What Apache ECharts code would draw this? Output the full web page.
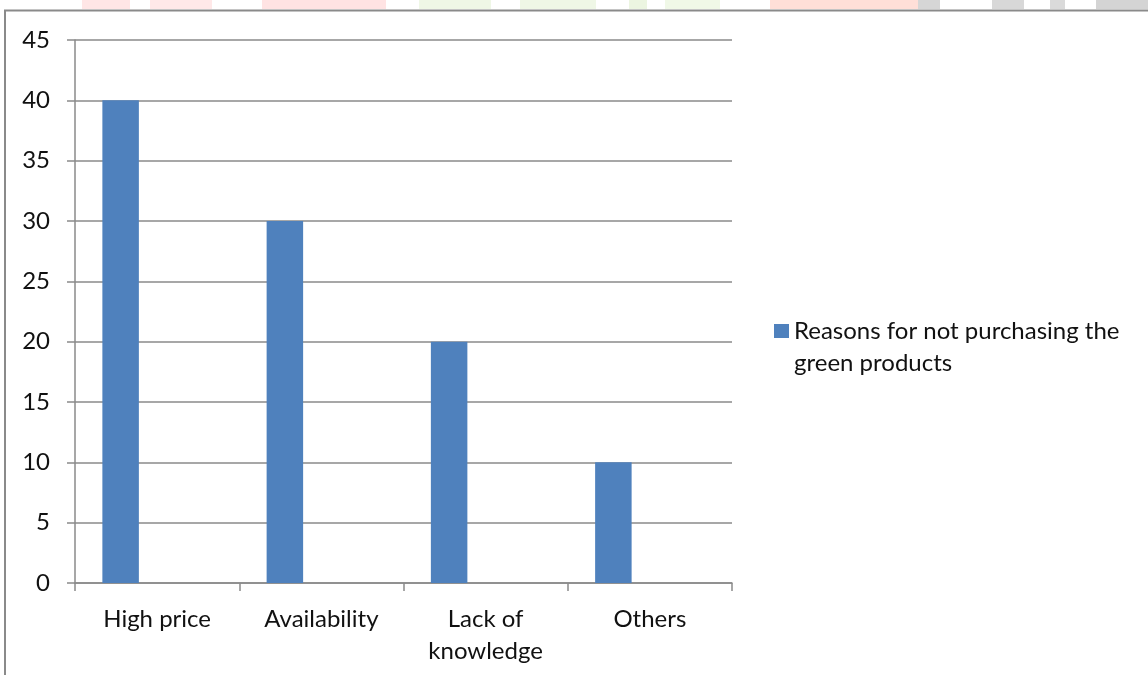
<!DOCTYPE html>
<html>
<head>
<meta charset="utf-8">
<title>Reasons for not purchasing the green products</title>
<script src="https://cdn.jsdelivr.net/npm/echarts@6/dist/echarts.min.js"></script>
<style>
  html, body { margin: 0; padding: 0; background: #ffffff; }
  #chart { width: 1148px; height: 675px; }
</style>
</head>
<body>
<div id="chart"></div>
<script>
// Survey answers: why respondents do not buy green products
const categories = ['High price', 'Availability', 'Lack of\nknowledge', 'Others'];
const reasonValues = [40, 30, 20, 10];
const seriesName = 'Reasons for not purchasing the green products';
const yTicks = { min: 0, max: 45, step: 5 };

const FONT = 'Lato, "Open Sans", sans-serif';
const GRID_GRAY = '#8a8a8a';

const chart = echarts.init(document.getElementById('chart'), null, { renderer: 'canvas' });

// faint pieces of the page header artwork above the frame
const headerBits = [
  { x: 82, w: 48, c: '#ffe6e6' },
  { x: 150, w: 62, c: '#ffe8e8' },
  { x: 262, w: 124, c: '#ffe3e3' },
  { x: 419, w: 72, c: '#eff7e6' },
  { x: 520, w: 76, c: '#eff7e6' },
  { x: 629, w: 18, c: '#ecf5e1' },
  { x: 665, w: 55, c: '#f0f8e7' },
  { x: 770, w: 152, c: '#ffdfd8' },
  { x: 918, w: 22, c: '#d6d6d6' },
  { x: 992, w: 32, c: '#d8d8d8' },
  { x: 1050, w: 15, c: '#dadada' },
  { x: 1096, w: 52, c: '#d4d4d4' }
];

const graphics = headerBits.map(b => ({
  type: 'rect',
  shape: { x: b.x, y: 0, width: b.w, height: 9 },
  style: { fill: b.c },
  silent: true
}));
// outer frame around the chart
graphics.push({
  type: 'rect',
  shape: { x: 5, y: 10.5, width: 1200, height: 700 },
  style: { fill: 'none', stroke: '#8a8a8a', lineWidth: 2 },
  silent: true
});

chart.setOption({
  backgroundColor: '#ffffff',
  animation: false,
  graphic: graphics,
  textStyle: { fontFamily: FONT },
  legend: {
    data: [seriesName],
    orient: 'vertical',
    left: 774,
    top: 283,
    padding: 0,
    itemWidth: 15,
    itemHeight: 14,
    selectedMode: false,
    icon: 'rect',
    // leading empty line puts the first text line level with the swatch
    formatter: () => '\nReasons for not purchasing the\ngreen products',
    textStyle: {
      fontFamily: FONT,
      fontSize: 24,
      color: '#111111',
      lineHeight: 32
    }
  },
  grid: {
    left: 75,
    top: 40,
    right: 416,
    bottom: 92,
    containLabel: false
  },
  xAxis: {
    type: 'category',
    data: categories,
    boundaryGap: true,
    axisLine: { show: true, lineStyle: { color: GRID_GRAY, width: 1.5 } },
    axisTick: { show: true, length: 8, alignWithLabel: false, lineStyle: { color: GRID_GRAY, width: 1.5 } },
    axisLabel: {
      interval: 0,
      margin: 20,
      fontFamily: FONT,
      fontSize: 24,
      lineHeight: 32,
      color: '#111111'
    },
    splitLine: { show: false }
  },
  yAxis: {
    type: 'value',
    min: yTicks.min,
    max: yTicks.max,
    interval: yTicks.step,
    axisLine: { show: true, lineStyle: { color: GRID_GRAY, width: 1.5 } },
    axisTick: { show: true, length: 8, lineStyle: { color: GRID_GRAY, width: 1.5 } },
    axisLabel: {
      margin: 25,
      fontFamily: FONT,
      fontSize: 24,
      color: '#111111'
    },
    splitLine: { show: true, lineStyle: { color: GRID_GRAY, width: 1.5 } }
  },
  series: [
    {
      name: seriesName,
      type: 'bar',
      data: reasonValues,
      barGap: '0%',
      barCategoryGap: '33.33%',
      itemStyle: { color: '#4f81bd' }
    },
    // two unused column slots keep the clustered spacing of the sheet
    { name: 'slot2', type: 'bar', data: [], barGap: '0%', barCategoryGap: '33.33%' },
    { name: 'slot3', type: 'bar', data: [], barGap: '0%', barCategoryGap: '33.33%' }
  ]
});
</script>
</body>
</html>
